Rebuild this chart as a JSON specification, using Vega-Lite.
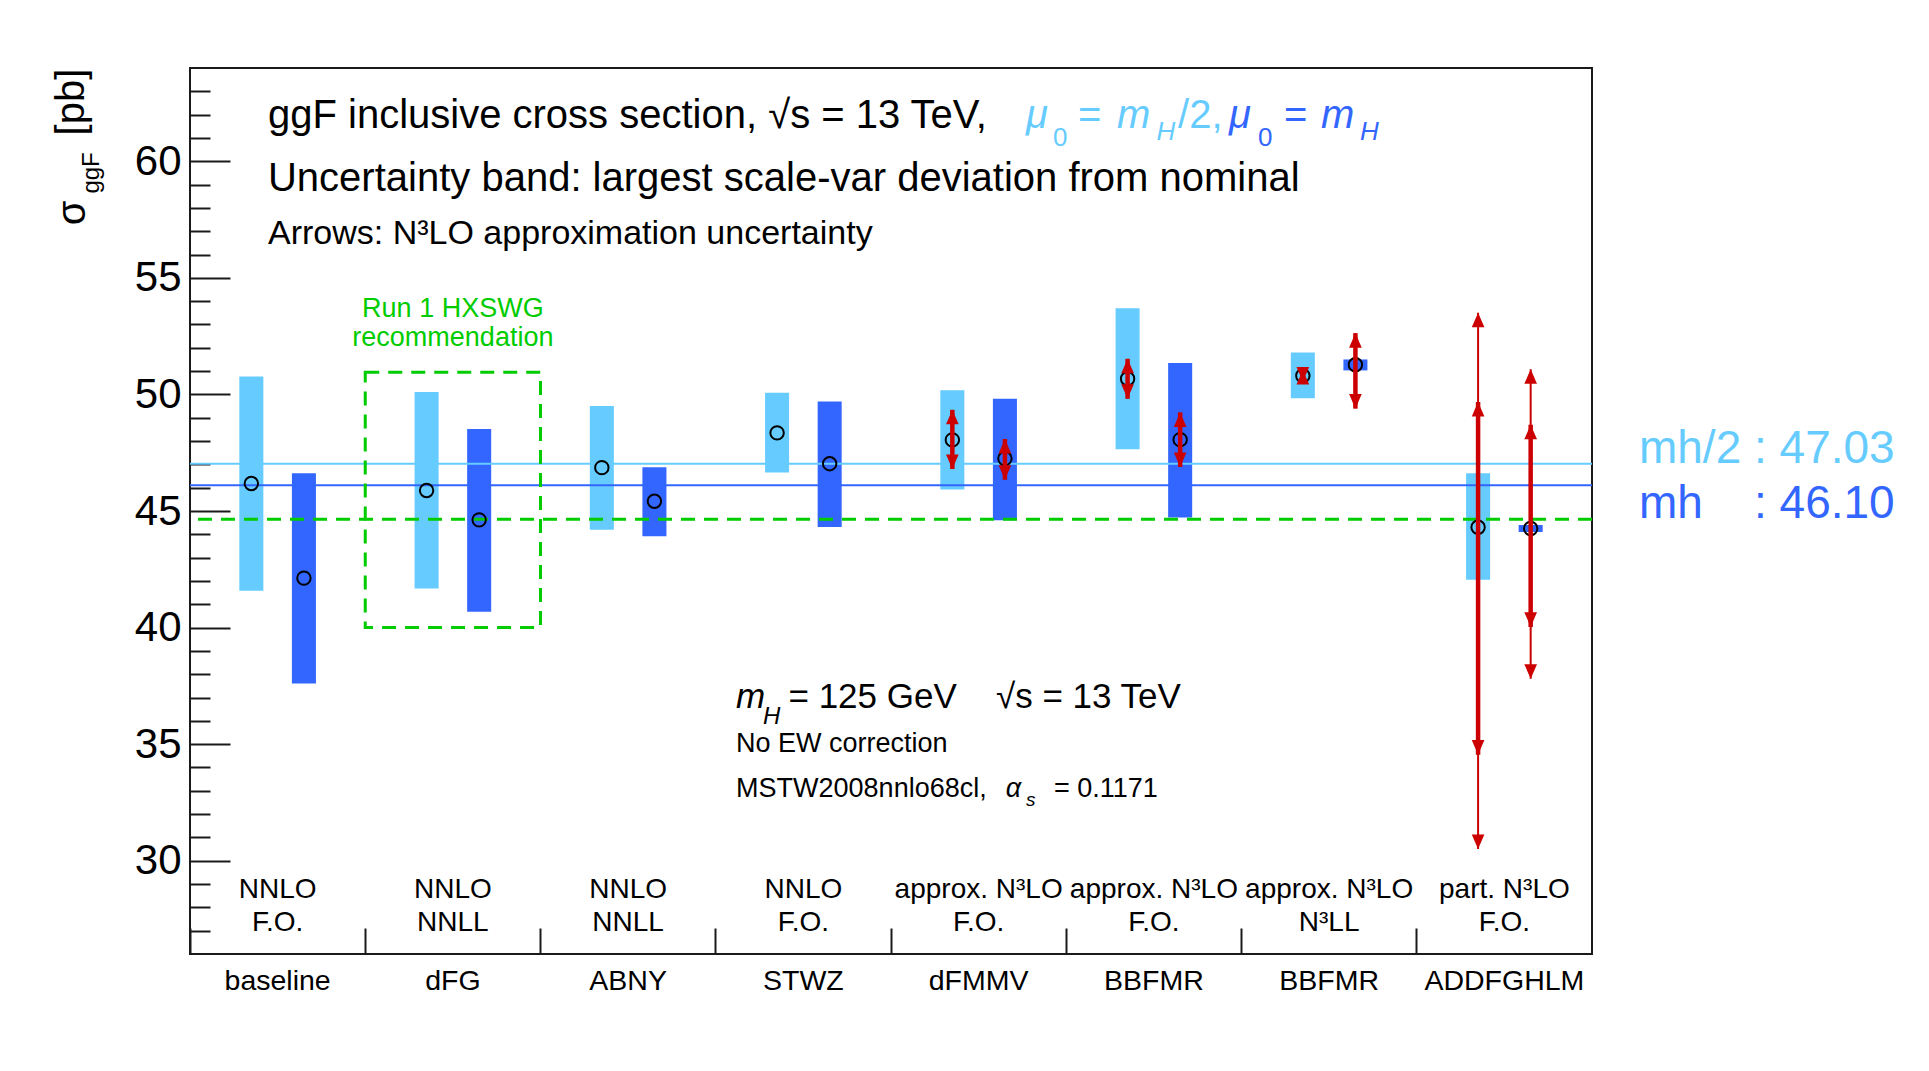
{
  "$schema": "https://vega.github.io/schema/vega-lite/v6.json",
  "width": 1402,
  "height": 886,
  "autosize": {"type": "none"},
  "padding": {"left": 190, "top": 68, "right": 337, "bottom": 117},
  "background": "#ffffff",
  "config": {
    "view": {"stroke": "#1a1a1a", "strokeWidth": 2},
    "font": "Liberation Sans",
    "text": {"font": "Liberation Sans"}
  },
  "datasets": {
    "bands": [
      {"m": "baseline", "s": "mh/2", "lo": 41.58, "hi": 50.77, "c": 46.18},
      {"m": "baseline", "s": "mh", "lo": 37.6, "hi": 46.62, "c": 42.12},
      {"m": "dFG", "s": "mh/2", "lo": 41.68, "hi": 50.1, "c": 45.88},
      {"m": "dFG", "s": "mh", "lo": 40.68, "hi": 48.52, "c": 44.62},
      {"m": "ABNY", "s": "mh/2", "lo": 44.2, "hi": 49.5, "c": 46.86},
      {"m": "ABNY", "s": "mh", "lo": 43.92, "hi": 46.88, "c": 45.42},
      {"m": "STWZ", "s": "mh/2", "lo": 46.65, "hi": 50.07, "c": 48.35},
      {"m": "STWZ", "s": "mh", "lo": 44.31, "hi": 49.7, "c": 47.03},
      {"m": "dFMMV", "s": "mh/2", "lo": 45.92, "hi": 50.18, "c": 48.05},
      {"m": "dFMMV", "s": "mh", "lo": 44.6, "hi": 49.81, "c": 47.25},
      {"m": "BBFMR", "s": "mh/2", "lo": 47.65, "hi": 53.7, "c": 50.67},
      {"m": "BBFMR", "s": "mh", "lo": 44.72, "hi": 51.35, "c": 48.06},
      {"m": "BBFMR_N3LL", "s": "mh/2", "lo": 49.84, "hi": 51.8, "c": 50.8},
      {"m": "BBFMR_N3LL", "s": "mh", "lo": 51.03, "hi": 51.5, "c": 51.27},
      {"m": "ADDFGHLM", "s": "mh/2", "lo": 42.05, "hi": 46.62, "c": 44.3},
      {"m": "ADDFGHLM", "s": "mh", "lo": 44.1, "hi": 44.4, "c": 44.25}
    ],
    "arrows": [
      {"m": "dFMMV", "s": "mh/2", "kind": "inner", "lo": 46.8, "hi": 49.34},
      {"m": "dFMMV", "s": "mh", "kind": "inner", "lo": 46.34, "hi": 48.09},
      {"m": "BBFMR", "s": "mh/2", "kind": "inner", "lo": 49.81, "hi": 51.53},
      {"m": "BBFMR", "s": "mh", "kind": "inner", "lo": 46.89, "hi": 49.23},
      {"m": "BBFMR_N3LL", "s": "mh/2", "kind": "inner", "lo": 50.55, "hi": 51.05},
      {"m": "BBFMR_N3LL", "s": "mh", "kind": "inner", "lo": 49.39, "hi": 52.63},
      {"m": "ADDFGHLM", "s": "mh/2", "kind": "outer", "lo": 30.5, "hi": 53.5},
      {"m": "ADDFGHLM", "s": "mh", "kind": "outer", "lo": 37.8, "hi": 51.08},
      {"m": "ADDFGHLM", "s": "mh/2", "kind": "inner", "lo": 34.55, "hi": 49.68},
      {"m": "ADDFGHLM", "s": "mh", "kind": "inner", "lo": 40.03, "hi": 48.7}
    ],
    "avg": [
      {"s": "mh/2", "v": 47.03},
      {"s": "mh", "v": 46.10}
    ],
    "hxswg": [{"v": 44.65}],
    "box": [{"m": "dFG", "lo": 40.0, "hi": 50.95}],
    "cats": [
      {"m": "baseline", "t1": "NNLO", "t2": "F.O."},
      {"m": "dFG", "t1": "NNLO", "t2": "NNLL"},
      {"m": "ABNY", "t1": "NNLO", "t2": "NNLL"},
      {"m": "STWZ", "t1": "NNLO", "t2": "F.O."},
      {"m": "dFMMV", "t1": "approx. N³LO", "t2": "F.O."},
      {"m": "BBFMR", "t1": "approx. N³LO", "t2": "F.O."},
      {"m": "BBFMR_N3LL", "t1": "approx. N³LO", "t2": "N³LL"},
      {"m": "ADDFGHLM", "t1": "part. N³LO", "t2": "F.O."}
    ]
  },
  "layer": [
    {
      "layer": [
        {
          "data": {"name": "bands"},
          "mark": {"type": "bar"},
          "encoding": {
            "x": {
              "field": "m", "type": "nominal", "sort": null,
              "scale": {"domain": ["baseline", "dFG", "ABNY", "STWZ", "dFMMV", "BBFMR", "BBFMR_N3LL", "ADDFGHLM"], "paddingInner": 0, "paddingOuter": 0},
              "axis": {
                "title": null, "domain": false, "grid": false,
                "bandPosition": 0, "tickSize": -26, "tickWidth": 2, "tickColor": "#1a1a1a",
                "labelPadding": 38, "labelFontSize": 28.5, "labelFont": "Liberation Sans",
                "labelColor": "#000000", "labelAngle": 0, "labelBaseline": "top", "labelOverlap": false,
                "labelExpr": "replace(datum.label, '_N3LL', '')"
              }
            },
            "xOffset": {"field": "s", "type": "nominal", "scale": {"domain": ["mh/2", "mh"], "paddingInner": 0.543, "paddingOuter": 0.938}},
            "y": {
              "field": "lo", "type": "quantitative",
              "scale": {"domain": [26, 64], "nice": false, "zero": false},
              "axis": {
                "title": null, "domain": false, "grid": false,
                "values": [27,28,29,30,31,32,33,34,35,36,37,38,39,40,41,42,43,44,45,46,47,48,49,50,51,52,53,54,55,56,57,58,59,60,61,62,63],
                "tickCount": 100,
                "format": "d",
                "labelExpr": "datum.value % 5 === 0 ? format(datum.value, 'd') : ''",
                "tickSize": {"condition": {"test": "datum.value % 5 === 0", "value": -40}, "value": -20},
                "tickWidth": 2, "tickColor": "#1a1a1a",
                "labelFontSize": 42, "labelFont": "Liberation Sans", "labelColor": "#000000",
                "labelPadding": 49, "labelOverlap": false, "labelBound": false, "labelFlush": false
              }
            },
            "y2": {"field": "hi"},
            "color": {
              "field": "s", "type": "nominal",
              "scale": {"domain": ["mh/2", "mh", "k", "g"], "range": ["#66ccff", "#3366ff", "#000000", "#00cc00"]},
              "legend": null
            }
          }
        },
        {
          "data": {"name": "avg"},
          "mark": {"type": "rule", "strokeWidth": 2},
          "encoding": {
            "y": {"field": "v", "type": "quantitative", "axis": {"title": null}},
            "color": {"field": "s", "type": "nominal", "legend": null}
          }
        },
        {
          "data": {"name": "hxswg"},
          "mark": {"type": "rule", "strokeWidth": 3, "strokeDash": [14, 9], "color": "#00cc00"},
          "encoding": {"y": {"field": "v", "type": "quantitative", "axis": {"title": null}}}
        },
        {
          "data": {"name": "box"},
          "mark": {"type": "bar", "filled": false, "fill": "transparent", "stroke": "#00cc00", "strokeWidth": 3, "strokeDash": [14, 9]},
          "encoding": {
            "x": {"field": "m", "type": "nominal", "sort": null},
            "y": {"field": "lo", "type": "quantitative", "axis": {"title": null}},
            "y2": {"field": "hi"}
          }
        },
        {
          "data": {"name": "bands"},
          "mark": {"type": "point", "shape": "circle", "filled": false, "stroke": "#000000", "strokeWidth": 2, "size": 180, "opacity": 1},
          "encoding": {
            "x": {"field": "m", "type": "nominal", "sort": null},
            "xOffset": {"field": "s", "type": "nominal"},
            "y": {"field": "c", "type": "quantitative", "axis": {"title": null}}
          }
        },
        {
          "data": {"name": "arrows"},
          "mark": {"type": "rule", "color": "#cc0000"},
          "encoding": {
            "x": {"field": "m", "type": "nominal", "sort": null},
            "xOffset": {"field": "s", "type": "nominal"},
            "y": {"field": "lo", "type": "quantitative", "axis": {"title": null}},
            "y2": {"field": "hi"},
            "strokeWidth": {"field": "kind", "type": "nominal", "scale": {"domain": ["inner", "outer"], "range": [4.5, 2]}, "legend": null}
          }
        },
        {
          "data": {"name": "arrows"},
          "mark": {"type": "point", "shape": "M0,0L-1,2.3L1,2.3Z", "filled": true, "color": "#cc0000", "size": 160, "opacity": 1, "strokeWidth": 0},
          "encoding": {
            "x": {"field": "m", "type": "nominal", "sort": null},
            "xOffset": {"field": "s", "type": "nominal"},
            "y": {"field": "hi", "type": "quantitative", "axis": {"title": null}}
          }
        },
        {
          "data": {"name": "arrows"},
          "mark": {"type": "point", "shape": "M0,0L-1,-2.3L1,-2.3Z", "filled": true, "color": "#cc0000", "size": 160, "opacity": 1, "strokeWidth": 0},
          "encoding": {
            "x": {"field": "m", "type": "nominal", "sort": null},
            "xOffset": {"field": "s", "type": "nominal"},
            "y": {"field": "lo", "type": "quantitative", "axis": {"title": null}}
          }
        },
        {
          "data": {"name": "cats"},
          "mark": {"type": "text", "fontSize": 28, "align": "center", "baseline": "alphabetic", "color": "#000000", "font": "Liberation Sans"},
          "encoding": {
            "x": {"field": "m", "type": "nominal", "sort": null},
            "y": {"datum": 28.41, "type": "quantitative", "axis": {"title": null}},
            "text": {"field": "t1"}
          }
        },
        {
          "data": {"name": "cats"},
          "mark": {"type": "text", "fontSize": 28, "align": "center", "baseline": "alphabetic", "color": "#000000", "font": "Liberation Sans"},
          "encoding": {
            "x": {"field": "m", "type": "nominal", "sort": null},
            "y": {"datum": 26.99, "type": "quantitative", "axis": {"title": null}},
            "text": {"field": "t2"}
          }
        }
      ]
    },
    {
      "encoding": {
        "x": {"field": "x", "type": "quantitative", "scale": {"domain": [0, 8], "nice": false, "zero": false}, "axis": null},
        "y": {"field": "y", "type": "quantitative", "axis": {"title": null}},
        "text": {"field": "t", "type": "nominal"},
        "color": {"field": "tone", "type": "nominal", "legend": null}
      },
      "layer": [
        {
          "data": {"values": [
            {"t": "ggF inclusive cross section, √s = 13 TeV,", "x": 0.445, "y": 61.43, "tone": "k"},
            {"t": "Uncertainty band: largest scale-var deviation from nominal", "x": 0.445, "y": 58.73, "tone": "k"},
            {"t": "=", "x": 5.067, "y": 61.43, "tone": "mh/2"},
            {"t": "/2,", "x": 5.638, "y": 61.43, "tone": "mh/2"},
            {"t": "=", "x": 6.243, "y": 61.43, "tone": "mh"}
          ]},
          "mark": {"type": "text", "fontSize": 40, "align": "left", "baseline": "alphabetic"}
        },
        {
          "data": {"values": [
            {"t": "μ", "x": 4.77, "y": 61.43, "tone": "mh/2"},
            {"t": "m", "x": 5.29, "y": 61.43, "tone": "mh/2"},
            {"t": "μ", "x": 5.929, "y": 61.43, "tone": "mh"},
            {"t": "m", "x": 6.454, "y": 61.43, "tone": "mh"}
          ]},
          "mark": {"type": "text", "fontSize": 40, "fontStyle": "italic", "align": "left", "baseline": "alphabetic"}
        },
        {
          "data": {"values": [
            {"t": "0", "x": 4.924, "y": 60.655, "tone": "mh/2"},
            {"t": "0", "x": 6.094, "y": 60.655, "tone": "mh"}
          ]},
          "mark": {"type": "text", "fontSize": 26, "align": "left", "baseline": "alphabetic"}
        },
        {
          "data": {"values": [
            {"t": "H", "x": 5.515, "y": 60.91, "tone": "mh/2"},
            {"t": "H", "x": 6.676, "y": 60.91, "tone": "mh"}
          ]},
          "mark": {"type": "text", "fontSize": 26, "fontStyle": "italic", "align": "left", "baseline": "alphabetic"}
        },
        {
          "data": {"values": [
            {"t": "Arrows: N³LO approximation uncertainty", "x": 0.445, "y": 56.45, "tone": "k"}
          ]},
          "mark": {"type": "text", "fontSize": 34, "align": "left", "baseline": "alphabetic"}
        },
        {
          "data": {"values": [
            {"t": "Run 1 HXSWG", "x": 1.5, "y": 53.32, "tone": "g"},
            {"t": "recommendation", "x": 1.5, "y": 52.08, "tone": "g"}
          ]},
          "mark": {"type": "text", "fontSize": 27, "align": "center", "baseline": "alphabetic"}
        },
        {
          "data": {"values": [
            {"t": "= 125 GeV", "x": 3.415, "y": 36.556, "tone": "k"},
            {"t": "√s = 13 TeV", "x": 4.599, "y": 36.556, "tone": "k"}
          ]},
          "mark": {"type": "text", "fontSize": 35, "align": "left", "baseline": "alphabetic"}
        },
        {
          "data": {"values": [
            {"t": "m", "x": 3.116, "y": 36.556, "tone": "k"}
          ]},
          "mark": {"type": "text", "fontSize": 35, "fontStyle": "italic", "align": "left", "baseline": "alphabetic"}
        },
        {
          "data": {"values": [
            {"t": "H", "x": 3.27, "y": 35.87, "tone": "k"}
          ]},
          "mark": {"type": "text", "fontSize": 24, "fontStyle": "italic", "align": "left", "baseline": "alphabetic"}
        },
        {
          "data": {"values": [
            {"t": "No EW correction", "x": 3.116, "y": 34.67, "tone": "k"},
            {"t": "MSTW2008nnlo68cl,", "x": 3.116, "y": 32.74, "tone": "k"},
            {"t": "= 0.1171", "x": 4.93, "y": 32.74, "tone": "k"}
          ]},
          "mark": {"type": "text", "fontSize": 27, "align": "left", "baseline": "alphabetic"}
        },
        {
          "data": {"values": [
            {"t": "α", "x": 4.655, "y": 32.74, "tone": "k"}
          ]},
          "mark": {"type": "text", "fontSize": 27, "fontStyle": "italic", "align": "left", "baseline": "alphabetic"}
        },
        {
          "data": {"values": [
            {"t": "s", "x": 4.77, "y": 32.35, "tone": "k"}
          ]},
          "mark": {"type": "text", "fontSize": 19, "fontStyle": "italic", "align": "left", "baseline": "alphabetic"}
        },
        {
          "data": {"values": [
            {"t": "mh/2 : 47.03", "x": 8.268, "y": 47.06, "tone": "mh/2"},
            {"t": "mh\u00a0\u00a0\u00a0\u00a0: 46.10", "x": 8.268, "y": 44.7, "tone": "mh"}
          ]},
          "mark": {"type": "text", "fontSize": 46, "align": "left", "baseline": "alphabetic"}
        },
        {
          "data": {"values": [
            {"t": "σ", "x": -0.668, "y": 57.78, "tone": "k"},
            {"t": "[pb]", "x": -0.673, "y": 62.54, "tone": "k"}
          ]},
          "mark": {"type": "text", "fontSize": 40, "angle": 270, "align": "center", "baseline": "middle"}
        },
        {
          "data": {"values": [
            {"t": "ggF", "x": -0.559, "y": 59.5, "tone": "k"}
          ]},
          "mark": {"type": "text", "fontSize": 24, "angle": 270, "align": "center", "baseline": "middle"}
        }
      ]
    }
  ],
  "resolve": {"scale": {"x": "independent"}}
}
